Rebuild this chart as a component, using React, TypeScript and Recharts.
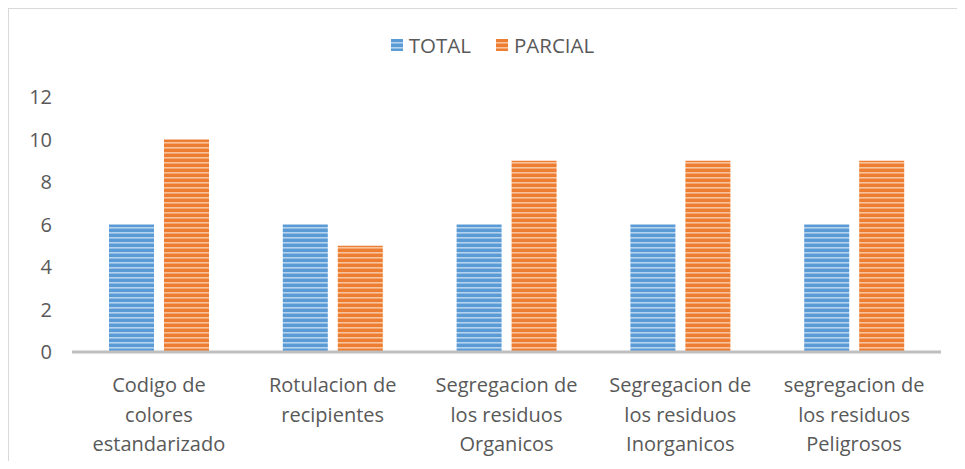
import React from "react";
import { BarChart, Bar, XAxis, YAxis, Legend } from "recharts";

const categories = [
  "Codigo de colores estandarizado",
  "Rotulacion de recipientes",
  "Segregacion de los residuos Organicos",
  "Segregacion de los residuos Inorganicos",
  "segregacion de los residuos Peligrosos",
];
const tickLines = [
  ["Codigo de", "colores", "estandarizado"],
  ["Rotulacion de", "recipientes"],
  ["Segregacion de", "los residuos", "Organicos"],
  ["Segregacion de", "los residuos", "Inorganicos"],
  ["segregacion de", "los residuos", "Peligrosos"],
];
const totalValues = [6, 6, 6, 6, 6];
const parcialValues = [10, 5, 9, 9, 9];
const yTicks = [0, 2, 4, 6, 8, 10, 12];
const seriesNames = ["TOTAL", "PARCIAL"];

const data = categories.map((c, i) => ({
  name: c,
  total: totalValues[i],
  parcial: parcialValues[i],
}));

const FONT = "'Open Sans', sans-serif";
const TEXT = "#595959";

const XTick = (props: any) => {
  const { x, y, index } = props;
  const lines = tickLines[index] || [];
  return (
    <text x={x} y={y + 40} textAnchor="middle" fill={TEXT} fontSize={20} fontFamily={FONT}>
      {lines.map((l, i) => (
        <tspan key={i} x={x} dy={i === 0 ? 0 : 29.5}>
          {l}
        </tspan>
      ))}
    </text>
  );
};

const LegendContent = () => (
  <div
    style={{
      display: "flex",
      justifyContent: "center",
      alignItems: "center",
      height: 24,
      fontFamily: FONT,
      fontSize: 20.5,
      color: TEXT,
      paddingLeft: 35,
    }}
  >
    <svg width={12} height={12} style={{ marginRight: 6 }}>
      <rect width={12} height={12} fill="url(#stripeBlue)" />
    </svg>
    <span style={{ marginRight: 25 }}>{seriesNames[0]}</span>
    <svg width={12} height={12} style={{ marginRight: 6 }}>
      <rect width={12} height={12} fill="url(#stripeOrange)" />
    </svg>
    <span>{seriesNames[1]}</span>
  </div>
);

export default function App() {
  return (
    <div
      style={{
        width: 957,
        height: 453,
        boxSizing: "border-box",
        borderTop: "1px solid #d9d9d9",
        borderLeft: "1px solid #d9d9d9",
        position: "relative",
        overflow: "hidden",
      }}
    >
      <svg width={0} height={0} style={{ position: "absolute" }}>
        <defs>
          <pattern id="stripeBlue" patternUnits="userSpaceOnUse" width={6} height={5}>
            <rect width={6} height={5} fill="#5B9BD5" />
            <rect y={3} width={6} height={1.6} fill="#B4D2EE" />
          </pattern>
          <pattern id="stripeOrange" patternUnits="userSpaceOnUse" width={6} height={5}>
            <rect width={6} height={5} fill="#ED7D31" />
            <rect y={3} width={6} height={1.6} fill="#F8C29C" />
          </pattern>
        </defs>
      </svg>
      <BarChart
        width={956}
        height={452}
        data={data}
        margin={{ top: 24, right: 24, bottom: 0, left: 0 }}
        barSize={45}
        barGap={10}
      >
        <Legend
          verticalAlign="top"
          align="center"
          content={LegendContent}
          wrapperStyle={{ height: 64 }}
        />
        <XAxis
          dataKey="name"
          axisLine={{ stroke: "#BFBFBF", strokeWidth: 3 }}
          tickLine={false}
          tickSize={0}
          tickMargin={0}
          height={109}
          interval={0}
          tick={<XTick />}
        />
        <YAxis
          domain={[0, 12]}
          ticks={yTicks}
          axisLine={false}
          tickLine={false}
          tickSize={0}
          tickMargin={20}
          width={63}
          tick={{ fill: TEXT, fontSize: 20, fontFamily: FONT }}
        />
        <Bar dataKey="total" name={seriesNames[0]} fill="url(#stripeBlue)" isAnimationActive={false} />
        <Bar dataKey="parcial" name={seriesNames[1]} fill="url(#stripeOrange)" isAnimationActive={false} />
      </BarChart>
    </div>
  );
}
